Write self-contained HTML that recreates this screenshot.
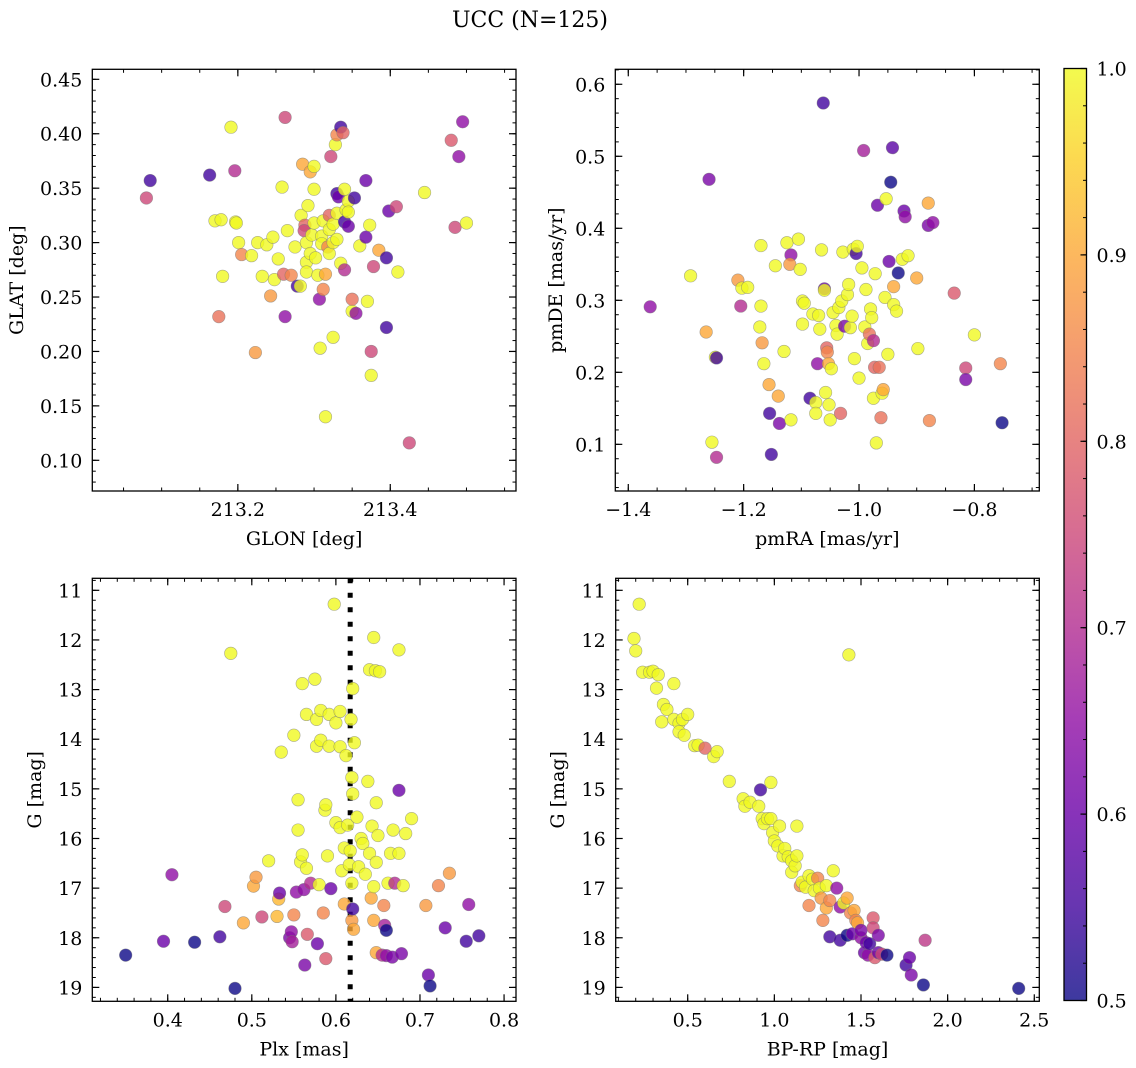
<!DOCTYPE html>
<html><head><meta charset="utf-8"><title>UCC (N=125)</title>
<style>
html,body{margin:0;padding:0;background:#fff;}
svg{display:block;font-family:"DejaVu Serif","Liberation Serif",serif;}
</style></head>
<body>
<svg id="fig" width="1136" height="1068" viewBox="0 0 1136 1068" xmlns="http://www.w3.org/2000/svg">
<defs>
<linearGradient id="plasmaGrad" x1="0" y1="1" x2="0" y2="0">
<stop offset="0" stop-color="#0d0887"/><stop offset="0.1" stop-color="#41049d"/><stop offset="0.2" stop-color="#6a00a8"/><stop offset="0.3" stop-color="#8f0da4"/><stop offset="0.4" stop-color="#b12a90"/><stop offset="0.5" stop-color="#cc4778"/><stop offset="0.6" stop-color="#e16462"/><stop offset="0.7" stop-color="#f2844b"/><stop offset="0.8" stop-color="#fca636"/><stop offset="0.9" stop-color="#fcce25"/><stop offset="1" stop-color="#f0f921"/>
</linearGradient>
</defs>
<text x="530" y="27" font-size="22" text-anchor="middle">UCC (N=125)</text>
</svg>
<script>
// ---- data (x, y, membership probability) ----
const skyPoints = [[213.085,0.357,0.55],[213.08,0.341,0.75],[213.163,0.362,0.55],[213.17,0.320,1],[213.178,0.321,1],[213.175,0.232,0.82],[213.18,0.269,1],[213.201,0.300,1],[213.205,0.289,0.85],[213.191,0.406,1],[213.196,0.366,0.7],[213.197,0.319,1],[213.198,0.318,1],[213.223,0.199,0.88],[213.218,0.288,1],[213.226,0.300,1],[213.232,0.269,1],[213.238,0.298,1],[213.243,0.251,0.88],[213.248,0.266,1],[213.246,0.305,1],[213.253,0.285,1],[213.262,0.232,0.65],[213.258,0.351,1],[213.262,0.415,0.75],[213.26,0.271,0.8],[213.265,0.311,1],[213.27,0.270,0.85],[213.275,0.296,1],[213.278,0.260,0.55],[213.282,0.260,1],[213.283,0.325,1],[213.285,0.372,0.9],[213.288,0.316,0.8],[213.287,0.311,0.75],[213.29,0.300,1],[213.29,0.282,1],[213.29,0.273,1],[213.292,0.334,1],[213.295,0.29,1],[213.295,0.365,0.9],[213.297,0.307,1],[213.3,0.370,1],[213.3,0.349,1],[213.3,0.318,1],[213.302,0.286,1],[213.305,0.270,1],[213.307,0.248,0.65],[213.308,0.203,1],[213.31,0.306,1],[213.31,0.299,1],[213.312,0.320,1],[213.312,0.257,0.85],[213.315,0.271,0.9],[213.315,0.140,1],[213.318,0.296,0.85],[213.32,0.312,1],[213.32,0.290,1],[213.32,0.325,0.8],[213.322,0.379,0.75],[213.325,0.317,1],[213.325,0.300,1],[213.325,0.213,1],[213.328,0.390,1],[213.33,0.399,0.85],[213.33,0.345,0.55],[213.33,0.327,1],[213.33,0.303,1],[213.332,0.342,0.6],[213.335,0.281,1],[213.335,0.406,0.55],[213.338,0.401,0.8],[213.34,0.319,0.55],[213.34,0.275,0.7],[213.34,0.349,1],[213.342,0.330,1],[213.345,0.338,1],[213.345,0.315,0.6],[213.345,0.328,1],[213.35,0.237,1],[213.35,0.248,0.82],[213.353,0.341,0.55],[213.355,0.235,0.65],[213.36,0.297,1],[213.368,0.305,0.6],[213.368,0.357,0.6],[213.37,0.246,1],[213.373,0.316,1],[213.375,0.178,1],[213.375,0.200,0.75],[213.378,0.278,0.75],[213.385,0.293,0.9],[213.395,0.286,0.55],[213.395,0.222,0.55],[213.398,0.329,0.6],[213.408,0.333,0.75],[213.41,0.273,1],[213.425,0.116,0.75],[213.445,0.346,1],[213.48,0.394,0.78],[213.485,0.314,0.75],[213.49,0.379,0.65],[213.495,0.411,0.65],[213.5,0.318,1]];
const pmPoints = [[-1.362,0.291,0.65],[-1.292,0.334,1],[-1.265,0.256,0.9],[-1.255,0.103,1],[-1.249,0.221,1],[-1.247,0.220,0.55],[-1.247,0.082,0.7],[-1.26,0.468,0.62],[-1.21,0.328,0.88],[-1.205,0.292,0.7],[-1.203,0.317,1],[-1.193,0.318,1],[-1.17,0.376,1],[-1.17,0.292,1],[-1.172,0.263,1],[-1.168,0.241,0.88],[-1.165,0.212,1],[-1.156,0.183,0.9],[-1.155,0.143,0.55],[-1.152,0.086,0.55],[-1.145,0.348,1],[-1.14,0.167,0.9],[-1.138,0.129,0.62],[-1.13,0.229,1],[-1.125,0.38,1],[-1.118,0.363,0.65],[-1.12,0.350,0.88],[-1.118,0.134,1],[-1.105,0.385,1],[-1.102,0.343,1],[-1.098,0.299,1],[-1.098,0.267,1],[-1.095,0.296,1],[-1.085,0.164,0.55],[-1.08,0.281,1],[-1.075,0.158,1],[-1.075,0.143,1],[-1.072,0.212,0.65],[-1.07,0.279,1],[-1.068,0.260,1],[-1.065,0.370,1],[-1.062,0.574,0.55],[-1.06,0.316,0.6],[-1.06,0.314,1],[-1.058,0.172,1],[-1.056,0.234,0.8],[-1.055,0.228,0.85],[-1.053,0.212,0.9],[-1.052,0.155,1],[-1.05,0.134,1],[-1.048,0.205,1],[-1.045,0.283,1],[-1.04,0.265,1],[-1.038,0.253,1],[-1.035,0.290,1],[-1.03,0.299,1],[-1.032,0.143,0.8],[-1.028,0.367,1],[-1.025,0.264,0.62],[-1.02,0.308,1],[-1.018,0.322,1],[-1.015,0.262,1],[-1.012,0.278,1],[-1.01,0.371,1],[-1.008,0.219,1],[-1.005,0.365,0.55],[-1.003,0.375,1],[-1.0,0.192,1],[-0.995,0.345,1],[-0.992,0.508,0.68],[-0.99,0.263,1],[-0.988,0.315,1],[-0.985,0.24,1],[-0.982,0.253,0.82],[-0.98,0.288,1],[-0.978,0.276,1],[-0.975,0.244,0.7],[-0.975,0.164,1],[-0.973,0.207,0.8],[-0.972,0.337,1],[-0.97,0.102,1],[-0.968,0.432,0.6],[-0.965,0.207,0.82],[-0.962,0.137,0.82],[-0.96,0.171,1],[-0.958,0.176,0.9],[-0.955,0.304,1],[-0.953,0.441,1],[-0.95,0.225,1],[-0.948,0.354,0.6],[-0.945,0.464,0.5],[-0.942,0.512,0.58],[-0.94,0.294,1],[-0.94,0.319,0.9],[-0.935,0.285,1],[-0.932,0.338,0.5],[-0.925,0.357,1],[-0.922,0.424,0.6],[-0.92,0.416,0.65],[-0.915,0.362,1],[-0.9,0.331,0.9],[-0.898,0.233,1],[-0.88,0.435,0.9],[-0.88,0.404,0.62],[-0.878,0.133,0.85],[-0.872,0.408,0.65],[-0.835,0.31,0.78],[-0.815,0.206,0.75],[-0.815,0.19,0.62],[-0.8,0.252,1],[-0.755,0.212,0.85],[-0.752,0.13,0.5]];
const plxPoints = [[0.35,18.35,0.5],[0.395,18.07,0.6],[0.405,16.73,0.65],[0.432,18.09,0.5],[0.462,17.98,0.55],[0.468,17.37,0.75],[0.475,12.27,1],[0.48,19.02,0.5],[0.49,17.7,0.9],[0.502,16.96,0.9],[0.505,16.78,0.88],[0.512,17.58,0.75],[0.52,16.45,1],[0.53,17.57,0.92],[0.532,17.22,0.92],[0.533,17.1,0.6],[0.535,14.26,1],[0.545,18.0,0.62],[0.547,17.88,0.65],[0.548,18.08,0.68],[0.55,17.54,0.85],[0.55,13.92,1],[0.553,17.08,0.65],[0.555,15.22,1],[0.555,15.83,1],[0.558,16.47,1],[0.56,12.88,1],[0.56,16.33,1],[0.562,17.03,0.65],[0.563,18.55,0.62],[0.565,13.5,1],[0.565,16.6,1],[0.566,17.93,0.78],[0.57,16.9,0.7],[0.575,12.79,1],[0.577,13.6,1],[0.577,14.14,1],[0.578,18.12,0.6],[0.58,16.93,1],[0.582,13.42,1],[0.582,14.02,1],[0.585,17.5,0.85],[0.587,15.43,1],[0.588,15.32,1],[0.588,18.42,0.78],[0.59,16.35,1],[0.592,13.5,1],[0.592,14.14,1],[0.594,17.01,0.6],[0.598,11.28,1],[0.6,13.67,1],[0.6,15.68,1],[0.605,13.44,1],[0.605,14.15,1],[0.605,15.78,1],[0.607,16.65,1],[0.61,16.19,1],[0.61,17.32,0.9],[0.612,14.33,1],[0.614,15.73,1],[0.616,16.53,1],[0.617,16.25,1],[0.618,13.6,1],[0.619,14.77,1],[0.619,16.9,1],[0.619,17.65,0.88],[0.62,17.42,0.55],[0.62,12.98,1],[0.62,15.1,1],[0.621,17.83,0.9],[0.622,14.07,1],[0.625,15.57,1],[0.627,16.57,1],[0.63,16.0,1],[0.632,16.1,1],[0.635,16.72,1],[0.638,14.85,1],[0.64,16.3,1],[0.64,12.6,1],[0.642,17.2,0.9],[0.643,15.75,1],[0.645,17.65,0.9],[0.645,16.97,1],[0.645,11.95,1],[0.647,12.62,1],[0.648,15.28,1],[0.648,18.3,0.9],[0.648,16.48,1],[0.65,15.94,1],[0.652,12.64,1],[0.655,18.35,0.7],[0.657,17.35,0.85],[0.658,17.75,0.68],[0.66,18.36,0.65],[0.66,17.85,0.5],[0.662,16.9,1],[0.665,16.3,1],[0.667,18.39,0.62],[0.668,15.83,1],[0.67,16.9,0.7],[0.675,12.2,1],[0.675,15.03,0.6],[0.675,16.3,1],[0.678,18.32,0.62],[0.68,16.95,1],[0.683,15.9,1],[0.69,15.6,1],[0.707,17.35,0.88],[0.71,18.75,0.6],[0.712,18.97,0.5],[0.722,16.95,0.85],[0.73,17.8,0.6],[0.735,16.7,0.88],[0.755,18.07,0.55],[0.758,17.33,0.65],[0.77,17.96,0.55]];
const cmdPoints = [[0.22,11.28,1],[0.19,11.97,1],[0.2,12.22,1],[0.24,12.65,1],[0.28,12.65,1],[0.3,12.63,1],[0.32,12.97,1],[0.33,12.7,1],[0.36,13.3,1],[0.35,13.65,1],[0.38,13.4,1],[0.42,12.88,1],[0.42,13.6,1],[0.45,13.68,1],[0.45,13.85,1],[0.47,13.6,1],[0.48,13.92,1],[0.5,13.5,1],[0.54,14.13,1],[0.56,14.12,1],[0.6,14.18,0.8],[0.65,14.35,1],[0.67,14.25,1],[0.74,14.85,1],[0.82,15.2,1],[0.83,15.35,1],[0.86,15.27,1],[0.91,15.35,1],[0.92,15.02,0.55],[0.93,15.6,1],[0.94,15.7,1],[0.96,15.6,1],[0.98,15.6,1],[0.98,14.87,1],[0.99,15.88,1],[1.0,16.05,1],[1.02,16.15,1],[1.03,15.75,1],[1.05,16.35,1],[1.06,16.2,1],[1.08,16.37,1],[1.1,16.45,1],[1.1,16.68,1],[1.12,16.55,1],[1.13,15.75,1],[1.13,16.35,1],[1.15,16.95,0.85],[1.16,16.88,1],[1.18,16.98,1],[1.2,17.35,0.85],[1.2,16.75,1],[1.22,16.82,1],[1.23,17.05,1],[1.25,16.8,0.85],[1.26,17.0,1],[1.27,17.2,0.88],[1.28,17.65,0.85],[1.3,17.4,0.9],[1.3,16.95,1],[1.32,17.98,0.55],[1.32,17.25,0.85],[1.34,16.65,1],[1.36,17.0,0.65],[1.38,18.05,0.55],[1.38,17.38,0.65],[1.4,17.3,1],[1.42,17.2,0.9],[1.42,17.95,0.5],[1.43,12.3,1],[1.44,17.5,0.85],[1.45,17.92,0.6],[1.46,17.45,0.9],[1.47,17.65,0.85],[1.48,17.7,0.9],[1.5,18.0,0.65],[1.5,17.85,0.62],[1.52,18.3,0.6],[1.53,18.1,0.6],[1.54,18.35,0.65],[1.55,18.12,0.55],[1.57,17.6,0.78],[1.57,17.8,0.75],[1.58,18.4,0.78],[1.6,17.95,0.62],[1.6,18.3,0.6],[1.62,18.33,0.75],[1.65,18.35,0.5],[1.76,18.55,0.55],[1.78,18.4,0.6],[1.79,18.75,0.62],[1.87,18.05,0.72],[1.86,18.95,0.5],[2.41,19.02,0.5]];
const glonTicks = [213.2, 213.4];
const glatTicks = [0.10,0.15,0.20,0.25,0.30,0.35,0.40,0.45];
const pmraTicks = [-1.4,-1.2,-1.0,-0.8];
const pmdeTicks = [0.1,0.2,0.3,0.4,0.5,0.6];
const plxTicks = [0.4,0.5,0.6,0.7,0.8];
const gTicks = [11,12,13,14,15,16,17,18,19];
const bprpTicks = [0.5,1.0,1.5,2.0,2.5];
const cbarTicks = [0.5,0.6,0.7,0.8,0.9,1.0];
const plxMean = 0.617;

const NS = 'http://www.w3.org/2000/svg';
const svg = document.getElementById('fig');
const FS = 19;
function mk(tag, attrs, parent){ const e=document.createElementNS(NS,tag); for(const k in attrs) e.setAttribute(k,attrs[k]); (parent||svg).appendChild(e); return e; }
const stops=[[13,8,135],[65,4,157],[106,0,168],[143,13,164],[177,42,144],[204,71,120],[225,100,98],[242,132,75],[252,166,54],[252,206,37],[240,249,33]];
function plasma(p){ let t=Math.max(0,Math.min(1,(p-0.5)/0.5))*10; const i=Math.min(9,Math.floor(t)); const f=t-i; const a=stops[i],b=stops[i+1]; return 'rgb('+a.map((v,k)=>Math.round(v+(b[k]-v)*f)).join(',')+')'; }
function fmt(v,d){ return v.toFixed(d).replace('-','\u2212'); }

function panel(o){
  const g=mk('g',{});
  
  
  const X=v=>o.px0+(v-o.x0)/(o.x1-o.x0)*(o.px1-o.px0);
  const Y=v=>o.py0+(v-o.y0)/(o.y1-o.y0)*(o.py1-o.py0);
  const L=Math.min(o.px0,o.px1),R=Math.max(o.px0,o.px1),T=Math.min(o.py0,o.py1),B=Math.max(o.py0,o.py1);
  const xl=Math.min(o.x0,o.x1),xh=Math.max(o.x0,o.x1),yl=Math.min(o.y0,o.y1),yh=Math.max(o.y0,o.y1);
  for(let v=Math.ceil(xl/o.xmin-1e-6)*o.xmin; v<=xh+1e-9; v+=o.xmin){ const x=X(v); mk('line',{x1:x,x2:x,y1:B,y2:B-3.5,stroke:'#000','stroke-width':1},g); mk('line',{x1:x,x2:x,y1:T,y2:T+3.5,stroke:'#000','stroke-width':1},g); }
  for(let v=Math.ceil(yl/o.ymin-1e-6)*o.ymin; v<=yh+1e-9; v+=o.ymin){ const y=Y(v); mk('line',{x1:L,x2:L+3.5,y1:y,y2:y,stroke:'#000','stroke-width':1},g); mk('line',{x1:R,x2:R-3.5,y1:y,y2:y,stroke:'#000','stroke-width':1},g); }
  o.xt.forEach(v=>{ const x=X(v); mk('line',{x1:x,x2:x,y1:B,y2:B-7,stroke:'#000','stroke-width':1.2},g); mk('line',{x1:x,x2:x,y1:T,y2:T+7,stroke:'#000','stroke-width':1.2},g);
    const t=mk('text',{x:x,y:B+25,'font-size':FS,'text-anchor':'middle'},g); t.textContent=fmt(v,o.xd);
    
     });
  o.yt.forEach(v=>{ const y=Y(v); mk('line',{x1:L,x2:L+7,y1:y,y2:y,stroke:'#000','stroke-width':1.2},g); mk('line',{x1:R,x2:R-7,y1:y,y2:y,stroke:'#000','stroke-width':1.2},g);
    const t=mk('text',{x:L-10,y:y+7,'font-size':FS,'text-anchor':'end'},g); t.textContent=fmt(v,o.yd);
    
     });
  const xt=mk('text',{x:(L+R)/2,y:B+54,'font-size':FS,'text-anchor':'middle'},g); xt.textContent=o.xlab;
  
  
  const yt=mk('text',{x:0,y:0,'font-size':FS,'text-anchor':'middle',transform:'translate('+(o.ylx)+','+((T+B)/2)+') rotate(-90)'},g); yt.textContent=o.ylab;
  
  
  const cid='c'+o.name; const cp=mk('clipPath',{id:cid},g); mk('rect',{x:L,y:T,width:R-L,height:B-T},cp);
  const pg=mk('g',{'clip-path':'url(#'+cid+')'},g);
  if(o.extra) o.extra(pg,X,Y,T,B);
  o.pts.forEach(p=>{ const c=mk('circle',{cx:X(p[0]),cy:Y(p[1]),r:6.3,fill:plasma(p[2]),'fill-opacity':0.8,stroke:'#777','stroke-opacity':0.6,'stroke-width':0.6},pg);
    
     });
  const fr=mk('rect',{x:L,y:T,width:R-L,height:B-T,fill:'none',stroke:'#000','stroke-width':1.3},g);
  
  
}

panel({name:'sky-panel',pts:skyPoints,x0:213.009,x1:213.565,px0:92.3,px1:516,y0:0.4592,y1:0.0718,py0:69.3,py1:491,xt:glonTicks,yt:glatTicks,xmin:0.05,ymin:0.01,xd:1,yd:2,xlab:'GLON [deg]',ylab:'GLAT [deg]',ylx:23});
panel({name:'proper-motion-panel',pts:pmPoints,x0:-1.4225,x1:-0.6875,px0:615.3,px1:1039.3,y0:0.6208,y1:0.0352,py0:69.3,py1:491,xt:pmraTicks,yt:pmdeTicks,xmin:0.05,ymin:0.02,xd:1,yd:1,xlab:'pmRA [mas/yr]',ylab:'pmDE [mas/yr]',ylx:562});
panel({name:'parallax-panel',pts:plxPoints,x0:0.3103,x1:0.8142,px0:92.3,px1:516,y0:10.758,y1:19.28,py0:578.3,py1:1001.3,xt:plxTicks,yt:gTicks,xmin:0.02,ymin:0.2,xd:1,yd:0,xlab:'Plx [mas]',ylab:'G [mag]',ylx:41,
  extra:(pg,X,Y,T,B)=>{ const x=X(plxMean); const l=mk('line',{x1:x,x2:x,y1:T,y2:B,stroke:'#000','stroke-width':5,'stroke-dasharray':'5 9.5'},pg);
    
     }});
panel({name:'cmd-panel',pts:cmdPoints,x0:0.0845,x1:2.5289,px0:615.7,px1:1039.3,y0:10.758,y1:19.28,py0:578.3,py1:1001.3,xt:bprpTicks,yt:gTicks,xmin:0.1,ymin:0.2,xd:1,yd:0,xlab:'BP-RP [mag]',ylab:'G [mag]',ylx:564});

const cb=mk('g',{});


const cT=68.5,cB=1000.5,cL=1064,cR=1086.5;
mk('rect',{x:cL,y:cT,width:cR-cL,height:cB-cT,fill:'url(#plasmaGrad)','fill-opacity':0.8},cb);
const CY=v=>cB-(v-0.5)/0.5*(cB-cT);
for(let v=0.5;v<=1.0001;v+=0.02){ const y=CY(v); mk('line',{x1:cR,x2:cR-3.5,y1:y,y2:y,stroke:'#000','stroke-width':1},cb); }
cbarTicks.forEach(v=>{ const y=CY(v); mk('line',{x1:cR,x2:cR-6,y1:y,y2:y,stroke:'#000','stroke-width':1.2},cb);
  const t=mk('text',{x:cR+10,y:y+7,'font-size':FS},cb); t.textContent=v.toFixed(1);
  
   });
mk('rect',{x:cL,y:cT,width:cR-cL,height:cB-cT,fill:'none',stroke:'#000','stroke-width':1.3},cb);
</script>
</body></html>
